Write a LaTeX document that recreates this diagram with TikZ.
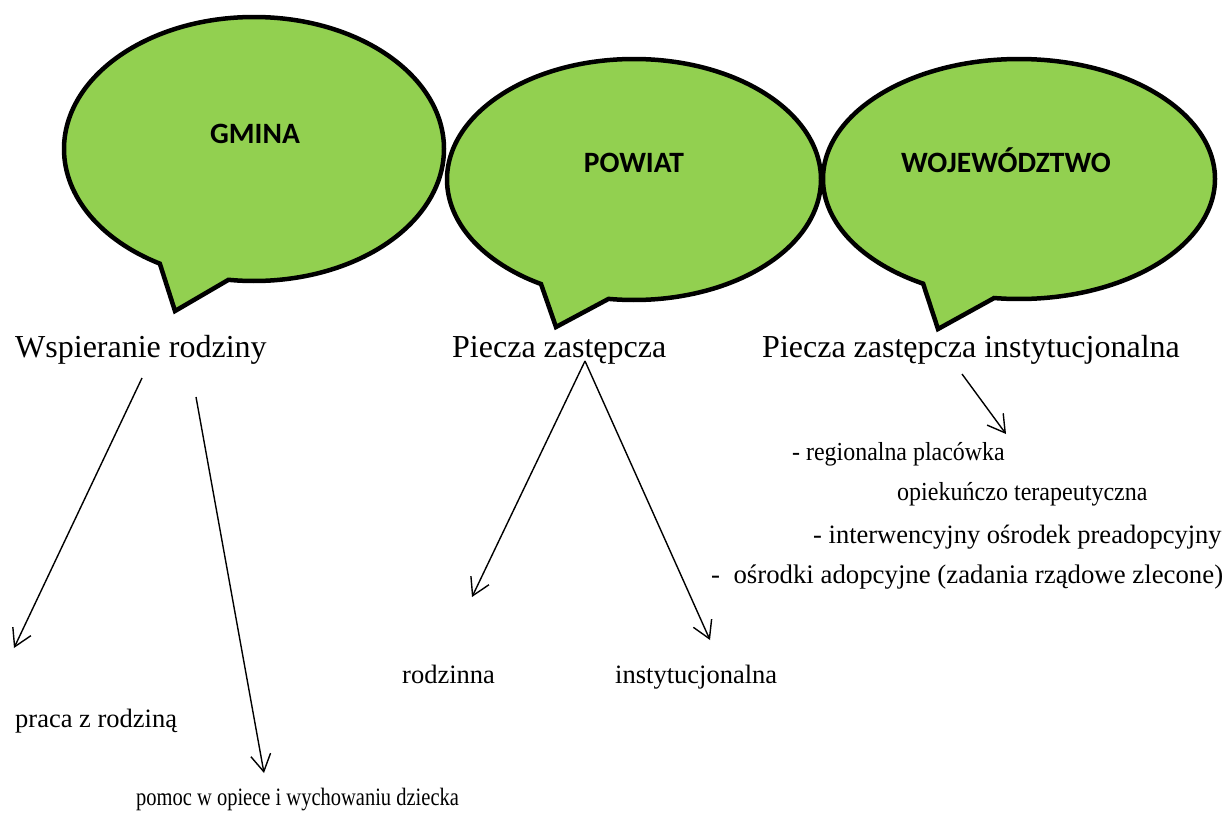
\documentclass[tikz,border=0pt]{standalone}
\usepackage{fontspec}
\setmainfont{Liberation Serif}
\newfontfamily\calloutfont{Carlito}
\usepackage{xcolor}
\definecolor{bubblegreen}{HTML}{92D050}
\usetikzlibrary{shapes.callouts,arrows.meta}

\begin{document}
\begin{tikzpicture}[x=1pt,y=-1pt,
    bubble/.style={ellipse callout, draw=black, line width=4.5pt, fill=bubblegreen,
        inner sep=0pt, callout pointer arc=22},
    head/.style={font=\calloutfont\bfseries\fontsize{29.5}{35}\selectfont, anchor=base},
    big/.style={font=\fontsize{32}{38}\selectfont, anchor=base west, inner sep=0pt},
    small/.style={font=\fontsize{26.5}{32}\selectfont, anchor=base west, inner sep=0pt},
    narrow/.style={font=\fontsize{#1}{30}\selectfont, transform shape},
    arr/.style={line width=1.4pt, -{Straight Barb[length=17pt,width=20pt]}}]
    \useasboundingbox (0,0) rectangle (1229,822);

    \node[bubble, minimum width=380pt, minimum height=264pt,
        callout absolute pointer={(175,311)}] (gmina) at (254,149) {};
    \node[bubble, minimum width=374pt, minimum height=241pt,
        callout absolute pointer={(556,327)}] (powiat) at (634,179.5) {};
    \node[bubble, minimum width=392pt, minimum height=240pt,
        callout absolute pointer={(938,329)}] (woj) at (1019,179) {};
    \node[head] (gminatxt) at (255,143) {GMINA};
    \node[head] (powiattxt) at (634,172) {POWIAT};
    \node[head] (wojtxt) at (1006,172) {WOJEWÓDZTWO};

    \node[big] (wsp) at (15,357) {Wspieranie rodziny};
    \node[big] (piecza) at (452,357) {Piecza zastępcza};
    \node[big] (pinst) at (762,357) {Piecza zastępcza instytucjonalna};

    \node[small] (praca) at (15,727) {praca z rodziną};
    \node[small, narrow=25, xscale=0.82] (pomoc) at (136,805) {pomoc w opiece i wychowaniu dziecka};
    \node[small] (rodz) at (402,683) {rodzinna};
    \node[small] (inst) at (615,683) {instytucjonalna};
    \node[small, narrow=26, xscale=0.92] (regio) at (792,460) {- regionalna placówka};
    \node[small, narrow=26, xscale=0.925] (opiek) at (897,500) {opiekuńczo terapeutyczna};
    \node[small] (interw) at (813,543) {- interwencyjny ośrodek preadopcyjny};
    \node[small, font=\fontsize{26.8}{32}\selectfont] (adop) at (711,583) {-\ \ ośrodki adopcyjne (zadania rządowe zlecone)};

    \coordinate (wsp-a) at (142,378);
    \coordinate (wsp-b) at (196,397);
    \coordinate (praca-top) at (14,648);
    \coordinate (pomoc-top) at (264,773);
    \coordinate (piecza-a) at (585,361);
    \coordinate (rodz-top) at (472,597);
    \coordinate (inst-top) at (710,640);
    \coordinate (pinst-a) at (962,374);
    \coordinate (regio-top) at (1006,434);

    \draw[arr] (wsp-a) -- (praca-top);
    \draw[arr] (wsp-b) -- (pomoc-top);
    \draw[arr] (piecza-a) -- (rodz-top);
    \draw[arr] (piecza-a) -- (inst-top);
    \draw[arr] (pinst-a) -- (regio-top);
\end{tikzpicture}
\end{document}
